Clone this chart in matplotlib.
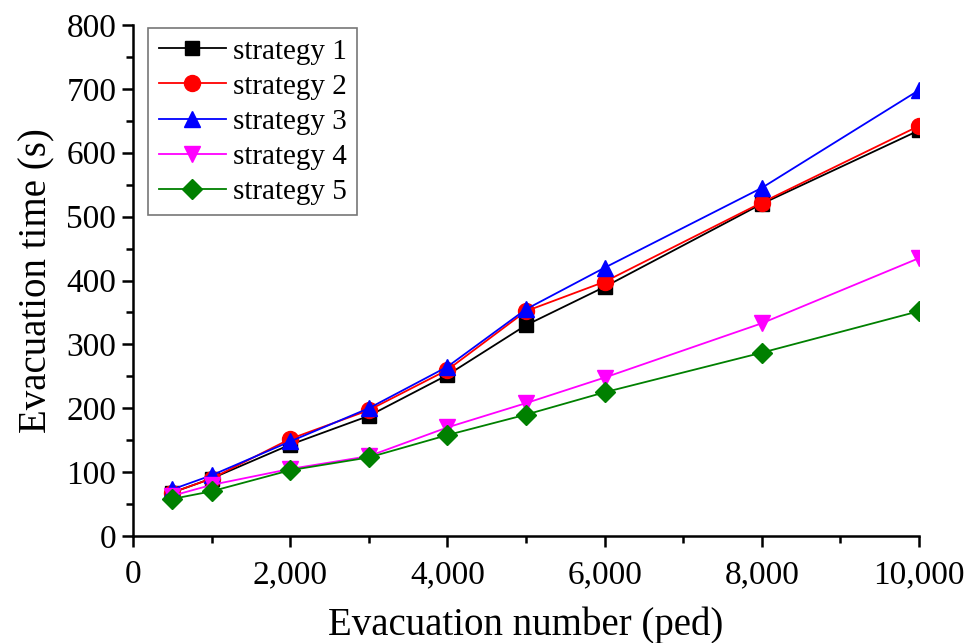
import matplotlib
matplotlib.use("Agg")
import matplotlib.pyplot as plt
from matplotlib.ticker import MultipleLocator, FuncFormatter

plt.rcParams['font.family'] = ['Liberation Serif', 'DejaVu Serif']

x = [500, 1000, 2000, 3000, 4000, 5000, 6000, 8000, 10000]
s1 = [68, 90, 143, 188, 252, 330, 390, 520, 635]
s2 = [68, 90, 152, 197, 260, 352, 398, 522, 642]
s3 = [73, 95, 148, 200, 265, 355, 420, 545, 698]
s4 = [63, 80, 105, 125, 170, 208, 248, 333, 435]
s5 = [58, 70, 103, 123, 158, 190, 225, 287, 352]
labels = ['strategy 1', 'strategy 2', 'strategy 3', 'strategy 4', 'strategy 5']
series = [s1, s2, s3, s4, s5]
colors = ['black', 'red', 'blue', 'magenta', 'green']
markers = ['s', 'o', '^', 'v', 'D']
msizes = [10.5, 11.5, 12, 12, 10.5]

fig = plt.figure(figsize=(9.79, 6.43), dpi=100)
ax = fig.add_axes([133/979, 1-536/643, (919-133)/979, (536-25)/643])

for ys, c, m, ms, lab in zip(series, colors, markers, msizes, labels):
    ax.plot(x, ys, color=c, marker=m, markersize=ms, linewidth=1.3, label=lab)

ax.set_xlim(0, 10000)
ax.set_ylim(0, 800)
ax.xaxis.set_major_locator(MultipleLocator(2000))
ax.xaxis.set_minor_locator(MultipleLocator(1000))
ax.yaxis.set_major_locator(MultipleLocator(100))
ax.yaxis.set_minor_locator(MultipleLocator(50))
ax.xaxis.set_major_formatter(FuncFormatter(lambda v, p: f"{int(v):,}"))

for side in ['top', 'right']:
    ax.spines[side].set_visible(False)
for side in ['left', 'bottom']:
    ax.spines[side].set_linewidth(1.8)
ax.tick_params(which='major', direction='out', length=8, width=1.8, labelsize=24)
ax.tick_params(axis='x', which='major', pad=9)
ax.tick_params(axis='y', which='major', pad=4)
ax.tick_params(which='minor', direction='out', length=5, width=1.8)

ax.set_xlabel('Evacuation number (ped)', fontsize=28, labelpad=12)
ax.set_ylabel('Evacuation time (s)', fontsize=28, labelpad=8)

leg = ax.legend(loc='upper left', bbox_to_anchor=(0.016, 1.0), fontsize=21, frameon=True,
                fancybox=False, edgecolor='#555555', handlelength=2.3, handletextpad=0.25,
                labelspacing=0.3, borderpad=0.35, borderaxespad=0.1)
leg.get_frame().set_linewidth(1.2)

fig.savefig('out.png', dpi=100)
